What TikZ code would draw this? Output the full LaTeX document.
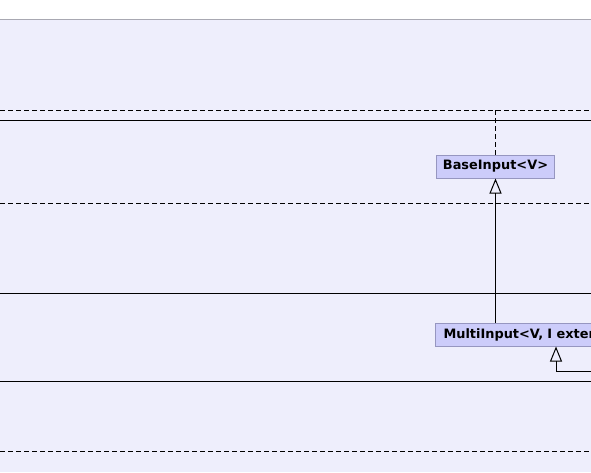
\documentclass[tikz,border=0pt]{standalone}
\usepackage{fontspec}
\usepackage{xcolor}
\usepackage{tikz}
\usetikzlibrary{positioning,arrows.meta}
\newfontfamily\umlfont{DejaVu Sans}

\definecolor{pagebg}{RGB}{238,238,252}
\definecolor{classfill}{RGB}{204,204,250}
\definecolor{classline}{RGB}{150,150,192}
\definecolor{topline}{RGB}{168,168,178}

\tikzset{
	classbox/.style={draw=classline, fill=classfill, line width=1pt, minimum height=23pt, inner xsep=6pt, font=\umlfont\bfseries\fontsize{12.9}{15}\selectfont},
	pkgdash/.style={line width=1pt, dash pattern=on 5pt off 3pt},
	pkgline/.style={line width=1pt},
	extends/.style={line width=1pt, -{Triangle[open, length=15pt, width=12pt, line width=1pt]}}
}

\begin{document}
\begin{tikzpicture}[x=1pt, y=-1pt, line cap=butt]
		\useasboundingbox (0,0) rectangle (591,472);
		\clip (0,0) rectangle (591,472);
		\fill[pagebg] (0,19) rectangle (591,472);
		\draw[topline, line width=1pt] (0,19) -- (591,19);
		
		\draw[pkgdash] (0,110) -- (591,110);
		\draw[pkgline] (0,120) -- (591,120);
		\draw[pkgdash] (0,203) -- (591,203);
		\draw[pkgline] (0,293) -- (591,293);
		\draw[pkgline] (0,381) -- (591,381);
		\draw[pkgdash] (0,451) -- (591,451);
		
		\node[classbox, minimum width=116pt] (baseinput) at (495.5,166.5) {BaseInput<V>};
		\node[classbox, anchor=west, inner xsep=8pt, text width=220pt, align=left] (multiinput) at (435,334.5) {MultiInput<V, I exter};
		
		\coordinate (pkgtop) at (baseinput.north |- 0,110);
		\coordinate (subclass) at (600,371);
		\coordinate (branch) at (556,0);
		
		\draw[pkgdash] (baseinput.north) -- (pkgtop);
		\draw[extends] (multiinput.north -| baseinput.south) -- (baseinput.south);
		\draw[extends] (subclass) -| (multiinput.south -| branch);
	\end{tikzpicture}
\end{document}
